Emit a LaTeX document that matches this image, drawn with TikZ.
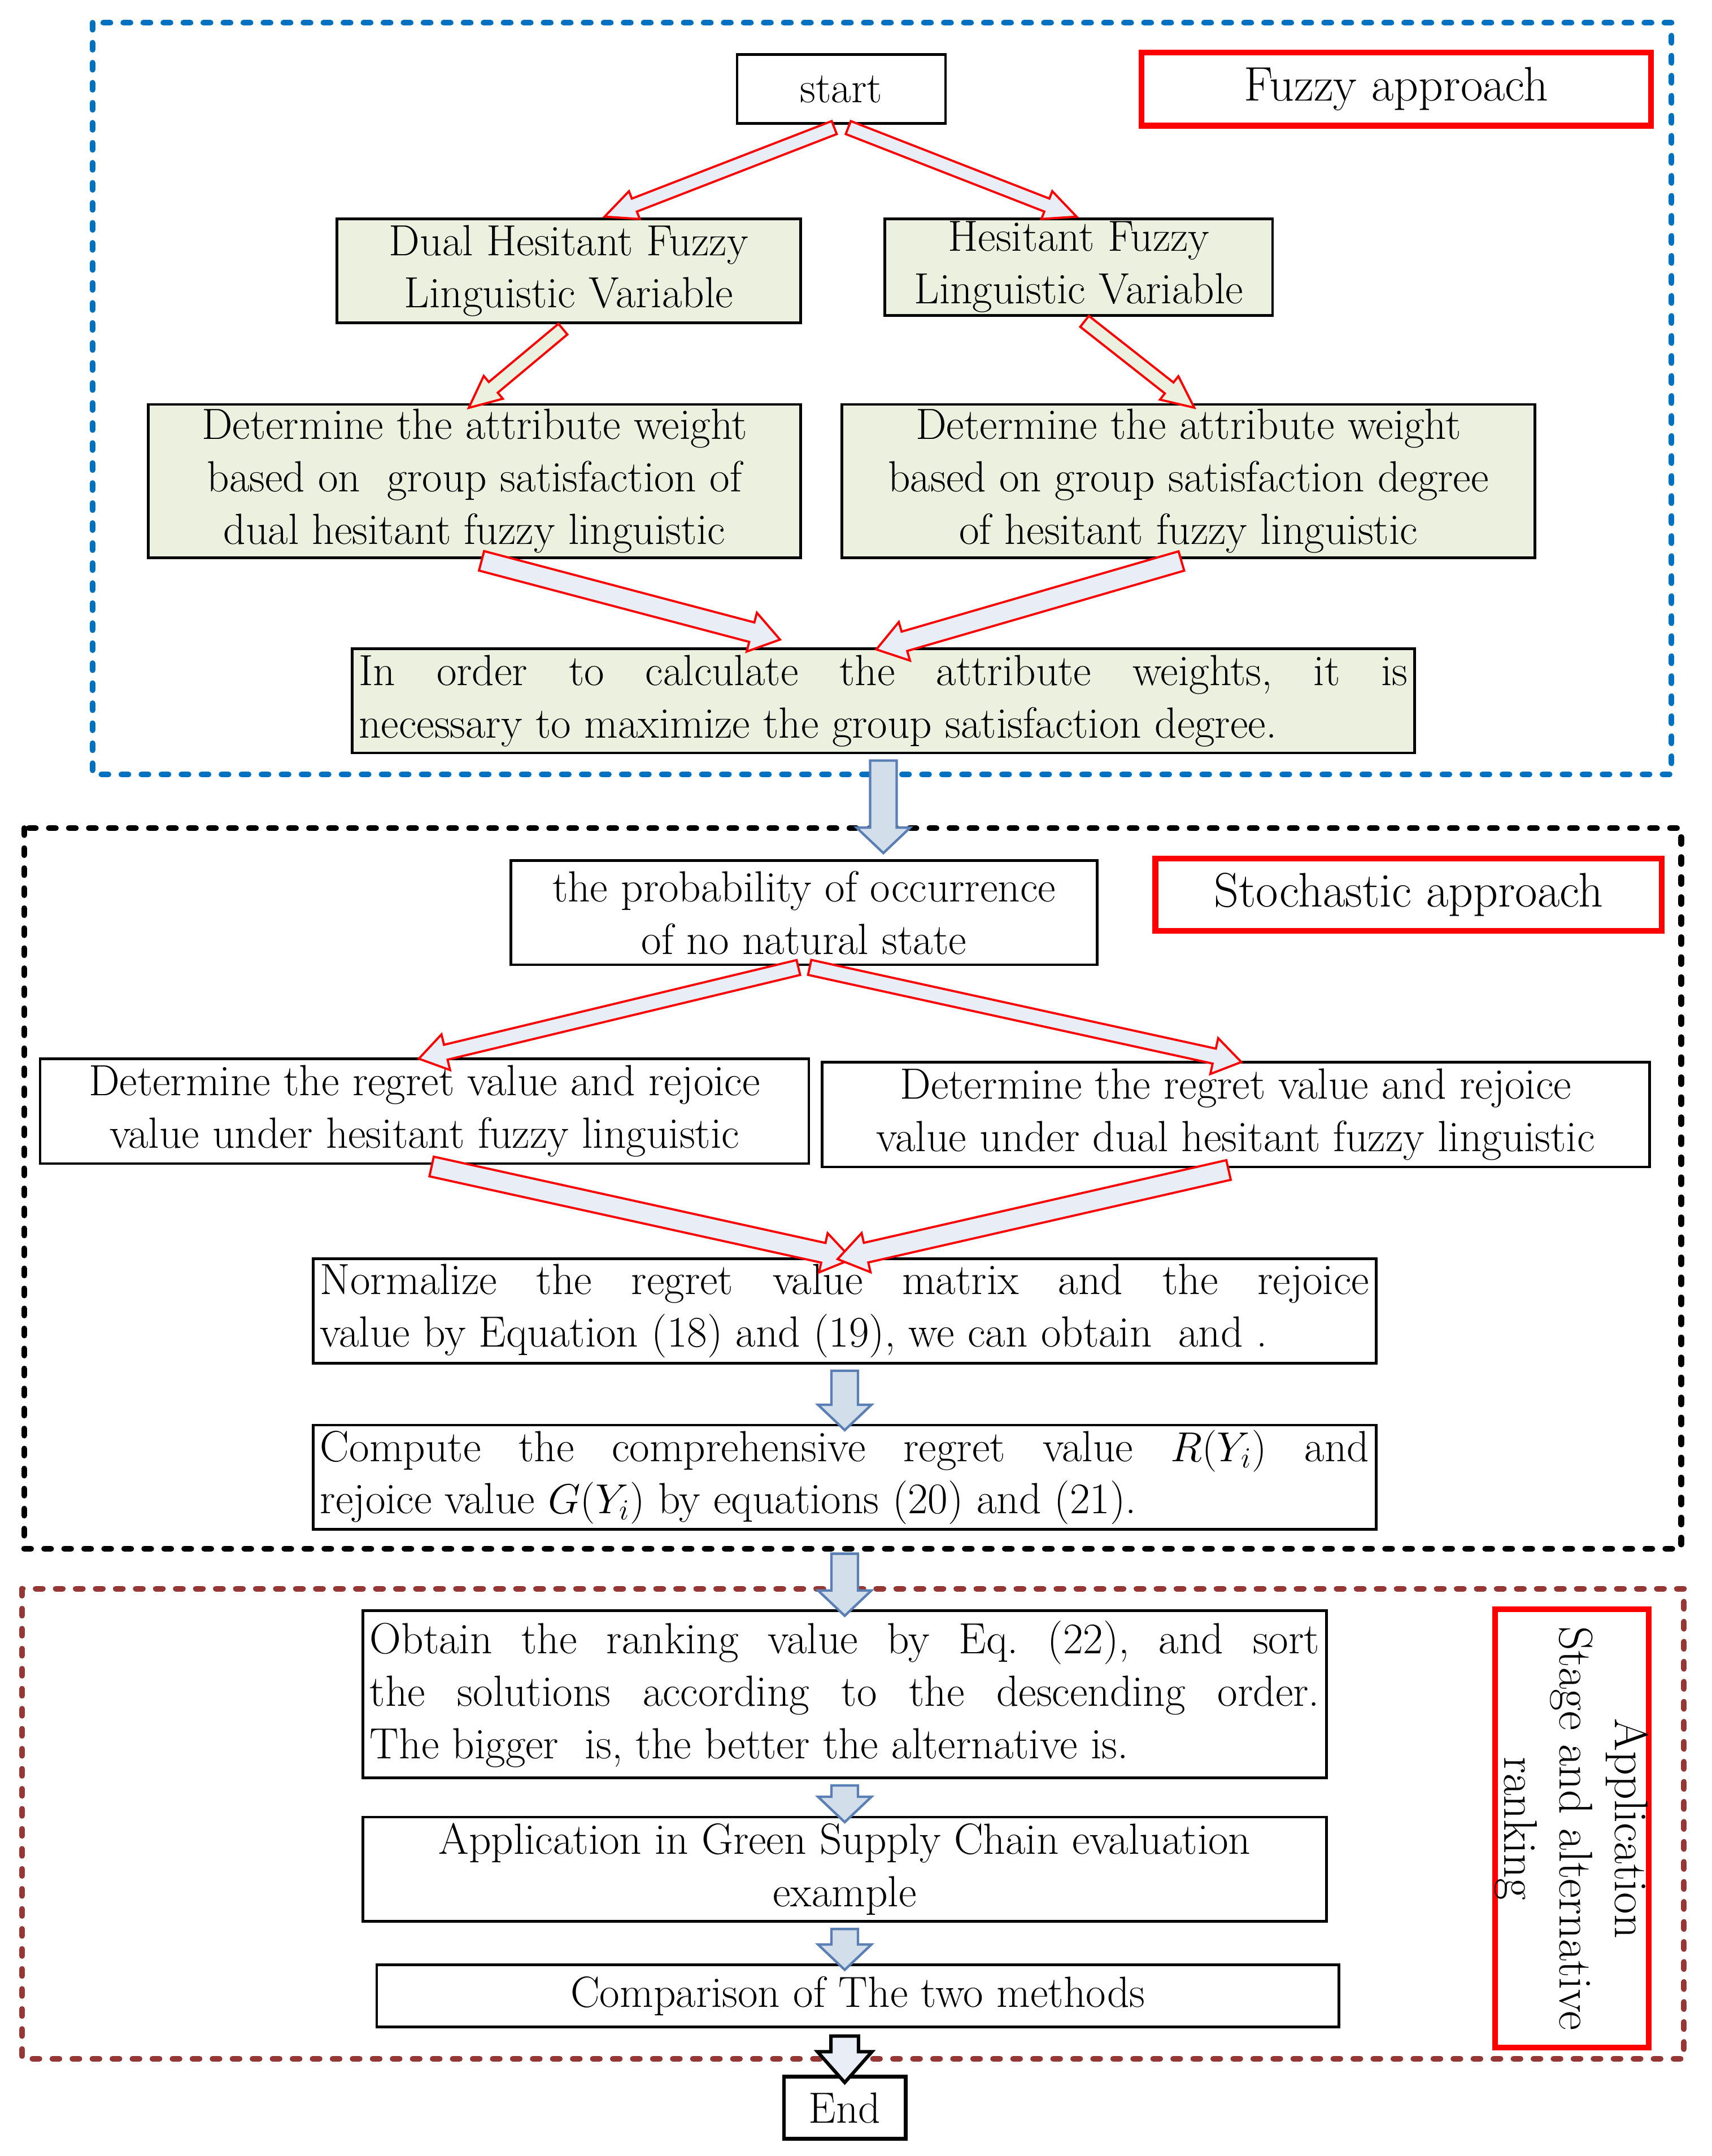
\documentclass[tikz,border=0pt]{standalone}
\usetikzlibrary{shapes.arrows,calc}

\definecolor{boxgreen}{HTML}{EBF1DE}
\definecolor{arrowfill}{HTML}{E9EEF6}
\definecolor{frameblue}{HTML}{0070C0}
\definecolor{framebrown}{HTML}{953735}
\definecolor{flowfill}{HTML}{D3DEEB}
\definecolor{flowdraw}{HTML}{5A7FB5}

% seta larga de um ponto a outro: \fatarrow[estilo]{de}{para}
\newcommand{\fatarrow}[3][]{%
  \path let \p1=(#2), \p2=(#3),
    \n1={atan2(\y2-\y1,\x2-\x1)}, \n2={veclen(\x2-\x1,\y2-\y1)} in
    node[single arrow, inner sep=0pt, minimum height=\n2, rotate=\n1, #1]
    at ($(#2)!0.5!(#3)$) {};}

\begin{document}
\begin{tikzpicture}

    % estilos
    \tikzstyle{stepbox}=[draw, line width=1.1pt, inner xsep=0.1cm, inner ysep=0.03cm, align=center, font=\fontsize{18}{21.6}\selectfont\frenchspacing]
    \tikzstyle{greenbox}=[stepbox, fill=boxgreen]
    \tikzstyle{parbox}=[stepbox, align=justify]
    \tikzstyle{tagbox}=[stepbox, draw=red, line width=2.4pt, font=\fontsize{20}{23}\selectfont]
    \tikzstyle{frame}=[line width=2.4pt, line cap=round, dash pattern=on 0.1cm off 0.19cm]
    \tikzstyle{redarrow}=[draw=red, line width=0.9pt, fill=arrowfill, inner xsep=0pt, inner ysep=0.085cm, single arrow head extend=0.115cm, single arrow tip angle=50]
    \tikzstyle{midarrow}=[redarrow, inner ysep=0.095cm, single arrow head extend=0.155cm, single arrow tip angle=67]
    \tikzstyle{widearrow}=[redarrow, inner ysep=0.13cm, single arrow head extend=0.145cm, single arrow tip angle=69]
    \tikzstyle{flowarrow}=[draw=flowdraw, line width=1pt, fill=flowfill, inner xsep=0pt, inner ysep=0.175cm, single arrow head extend=0.195cm, single arrow tip angle=93]

    \useasboundingbox (0,0) rectangle (24.8,-31.24);

    %======================= MOLDURAS =======================
    \draw[frame, frameblue]  (1.34,-0.33) rectangle (24.22,-11.22);
    \draw[frame, black]      (0.35,-12.0) rectangle (24.36,-22.44);
    \draw[frame, framebrown] (0.32,-23.02) rectangle (24.4,-29.83);

    %======================= FUZZY =======================
    \node[stepbox, minimum width=3.02cm, minimum height=1cm] (start) at (12.19,-1.29) {start};
    \node[tagbox, minimum width=7.38cm, minimum height=1.06cm] (fuzzy) at (20.23,-1.29) {Fuzzy approach};

    \node[greenbox, minimum width=6.72cm, minimum height=1.51cm] (dual) at (8.24,-3.925)
      {Dual Hesitant Fuzzy\\Linguistic Variable};
    \node[greenbox, minimum width=5.62cm, minimum height=1.4cm] (hflv) at (15.63,-3.87)
      {Hesitant Fuzzy\\Linguistic Variable};

    \node[greenbox, minimum width=9.45cm, minimum height=2.22cm] (detL) at (6.875,-6.97)
      {Determine the attribute weight\\based on\ \ group satisfaction of\\dual hesitant fuzzy linguistic};
    \node[greenbox, minimum width=10.04cm, minimum height=2.22cm] (detR) at (17.22,-6.97)
      {Determine the attribute weight\\based on group satisfaction degree\\of hesitant fuzzy linguistic};

    \node[parbox, fill=boxgreen, text width=15.2cm, minimum height=1.51cm] (inorder) at (12.8,-10.155)
      {In order to calculate the attribute weights, it is\linebreak
       necessary to maximize the group satisfaction degree.};

    %======================= ESTOCASTICO =======================
    \node[stepbox, minimum width=8.5cm, minimum height=1.51cm] (prob) at (11.65,-13.225)
      {the probability of occurrence\\of no natural state};
    \node[tagbox, minimum width=7.34cm, minimum height=1.05cm] (stoch) at (20.41,-12.965) {Stochastic approach};

    \node[stepbox, minimum width=11.14cm, minimum height=1.52cm] (regretL) at (6.15,-16.1)
      {Determine the regret value and rejoice\\value under hesitant fuzzy linguistic};
    \node[stepbox, minimum width=11.99cm, minimum height=1.52cm] (regretR) at (17.905,-16.15)
      {Determine the regret value and rejoice\\value under dual hesitant fuzzy linguistic};

    \node[parbox, text width=15.2cm, minimum height=1.51cm] (normal) at (12.24,-18.995)
      {Normalize the regret value matrix and the rejoice\linebreak
       value by Equation (18) and (19), we can obtain\ \ and .};
    \node[parbox, text width=15.2cm, minimum height=1.51cm] (compute) at (12.24,-21.405)
      {Compute the comprehensive regret value $R(Y_i)$ and\linebreak
       rejoice value $G(Y_i)$ by equations (20) and (21).};

    %======================= APLICACAO =======================
    \node[parbox, text width=13.76cm, minimum height=2.42cm] (obtain) at (12.24,-24.55)
      {Obtain the ranking value by Eq. (22), and sort\linebreak
       the solutions according to the descending order.\linebreak
       The bigger\ \ is, the better the alternative is.};
    \node[stepbox, minimum width=13.96cm, minimum height=1.51cm] (appl) at (12.24,-27.085)
      {Application in Green Supply Chain evaluation\\example};
    \node[stepbox, minimum width=13.94cm, minimum height=0.9cm] (compare) at (12.43,-28.92)
      {Comparison of The two methods};
    \node[stepbox, line width=1.6pt, minimum width=1.76cm, minimum height=0.9cm] (end) at (12.24,-30.54) {End};

    \node[tagbox, rotate=-90, minimum width=6.35cm, minimum height=2.21cm, inner ysep=0pt,
          font=\fontsize{19.5}{22.8}\selectfont] (stage) at (22.775,-26.495)
      {Application\\Stage and alternative\\ranking};

    %======================= SETAS =======================
    % pontas soltas
    \coordinate (t1) at ($(dual.north)+(0.62,0.05)$);
    \coordinate (t2) at ($(hflv.north)+(-0.13,0.05)$);
    \coordinate (t3) at ($(inorder.north)+(-1.6,0.14)$);
    \coordinate (f1) at ($(inorder.south)+(0,-1.34)$);
    \coordinate (f3) at ($(obtain.north)+(0,0.9)$);
    \coordinate (f5) at (appl.south |- compare.north);
    \coordinate (f6) at (end.north |- compare.south);

    % setas vermelhas
    \fatarrow[redarrow]{start.south}{t1}
    \fatarrow[redarrow]{start.south}{t2}
    \fatarrow[redarrow, fill=boxgreen]{dual.south}{detL.north}
    \fatarrow[redarrow, fill=boxgreen]{hflv.south}{detR.north}
    \fatarrow[widearrow]{detL.south}{t3}
    \fatarrow[widearrow]{detR.south}{inorder.north}

    \fatarrow[midarrow]{prob.south}{regretL.north}
    \fatarrow[midarrow]{prob.south}{regretR.north}
    \fatarrow[widearrow]{regretL.south}{normal.north}
    \fatarrow[widearrow]{regretR.south}{normal.north}

    % setas azuis
    \fatarrow[flowarrow]{inorder.south}{f1}
    \fatarrow[flowarrow]{normal.south}{compute.north}
    \fatarrow[flowarrow]{f3}{obtain.north}
    \fatarrow[flowarrow]{obtain.south}{appl.north}
    \fatarrow[flowarrow]{appl.south}{f5}
    \fatarrow[flowarrow, draw=black, fill=arrowfill, line width=1.4pt, single arrow tip angle=83]{f6}{end.north}

\end{tikzpicture}
\end{document}
